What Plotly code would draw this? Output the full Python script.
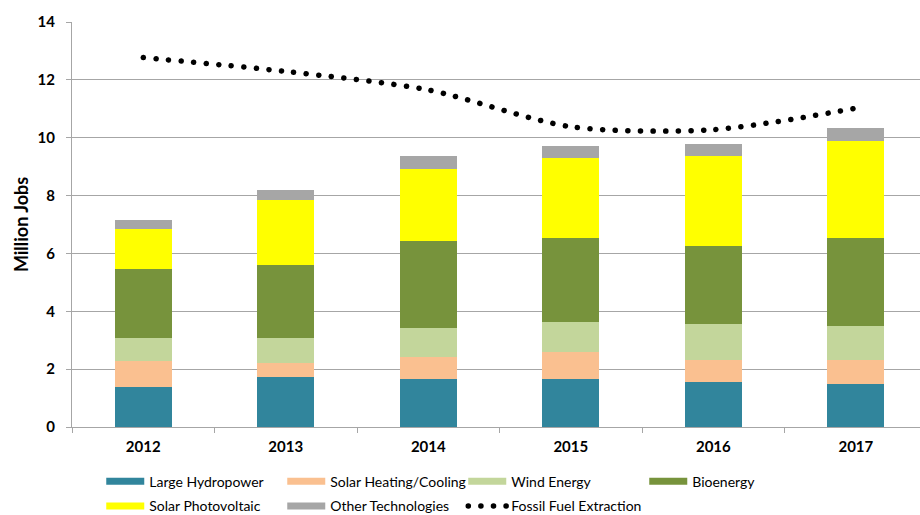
import plotly.graph_objects as go

years = ["2012", "2013", "2014", "2015", "2016", "2017"]

# million jobs per technology
large_hydropower = [1.39, 1.74, 1.65, 1.65, 1.54, 1.49]
solar_heating_cooling = [0.88, 0.48, 0.78, 0.94, 0.79, 0.84]
wind_energy = [0.79, 0.84, 1.00, 1.05, 1.22, 1.15]
bioenergy = [2.41, 2.53, 2.99, 2.88, 2.71, 3.04]
solar_photovoltaic = [1.37, 2.25, 2.51, 2.78, 3.10, 3.37]
other_technologies = [0.31, 0.36, 0.43, 0.42, 0.41, 0.46]
fossil_fuel_extraction = [12.77, 12.29, 11.65, 10.38, 10.28, 11.02]

y_ticks = [0, 2, 4, 6, 8, 10, 12, 14]

series = [
    ("Large Hydropower", large_hydropower, "#31859C", "legend"),
    ("Solar Heating/Cooling", solar_heating_cooling, "#FAC090", "legend"),
    ("Wind Energy", wind_energy, "#C3D69B", "legend"),
    ("Bioenergy", bioenergy, "#77933C", "legend"),
    ("Solar Photovoltaic", solar_photovoltaic, "#FFFF00", "legend2"),
    ("Other Technologies", other_technologies, "#A6A6A6", "legend2"),
]

font = "Lato, 'DejaVu Sans', sans-serif"
grid = "#A6A6A6"

fig = go.Figure()

for name, values, colour, _ in series:
    fig.add_trace(go.Bar(
        x=years, y=values, name=name, width=0.4,
        marker=dict(color=colour, line=dict(width=0)),
        showlegend=False,
    ))

# legend-only entries so the swatches are wide flat bars as in the original
for name, _, colour, legend in series:
    fig.add_trace(go.Scatter(
        x=[None], y=[None], name=name, mode="lines",
        line=dict(color=colour, width=7), legend=legend,
    ))

fig.add_trace(go.Scatter(
    x=years, y=fossil_fuel_extraction, name="Fossil Fuel Extraction",
    mode="lines", line=dict(color="black", width=5.5, dash="5px,7px",
                            shape="spline", smoothing=0.8),
    legend="legend2",
))

legend_style = dict(
    orientation="h", x=0.0345, xanchor="left", yanchor="middle",
    entrywidth=128, entrywidthmode="pixels", itemwidth=38,
    traceorder="normal",
    font=dict(family=font, size=14, color="black"),
    bgcolor="rgba(0,0,0,0)", tracegroupgap=0,
)

fig.update_layout(
    width=920, height=515,
    margin=dict(l=72, r=0, t=22, b=88, autoexpand=False),
    barmode="stack",
    plot_bgcolor="white", paper_bgcolor="white",
    font=dict(family=font, color="black"),
    legend=dict(legend_style, y=-0.135),
    legend2=dict(legend_style, y=-0.196),
    xaxis=dict(
        range=[-0.5, 5.45], showline=True, linecolor=grid, linewidth=1,
        ticks="outside", tickson="boundaries", ticklen=5, tickcolor=grid,
        tickfont=dict(family=font, size=15, color="black", weight="bold"),
        ticklabelstandoff=6, showgrid=False,
    ),
    yaxis=dict(
        range=[0, 14], tickvals=y_ticks, showline=True, linecolor=grid, linewidth=1,
        ticks="outside", ticklen=5, tickcolor=grid, gridcolor=grid, gridwidth=1,
        tickfont=dict(family=font, size=15, color="black", weight="bold"),
        ticklabelstandoff=8, zeroline=False,
        title=dict(text="Million Jobs", standoff=4,
                   font=dict(family=font, size=18, color="black", weight="bold")),
    ),
)

# no page margin; wide legend swatches; round dots for the fossil line
post = """
document.body.style.margin = '0';
var gd = document.getElementById('{plot_id}');
function restyle() {
  document.querySelectorAll('g.legendlines path').forEach(function (p) {
    p.setAttribute('d', 'M5,0h38');
  });
  document.querySelectorAll('path.js-line').forEach(function (p) {
    if (p.style.strokeDasharray && p.style.strokeDasharray !== 'none') {
      p.style.strokeLinecap = 'round';
      p.style.strokeDasharray = '0.1px, 12.5px';
    }
  });
}
restyle();
setTimeout(restyle, 50);
gd.on('plotly_afterplot', restyle);
"""

fig.write_html("out.html", post_script=post, config={"displayModeBar": False})
